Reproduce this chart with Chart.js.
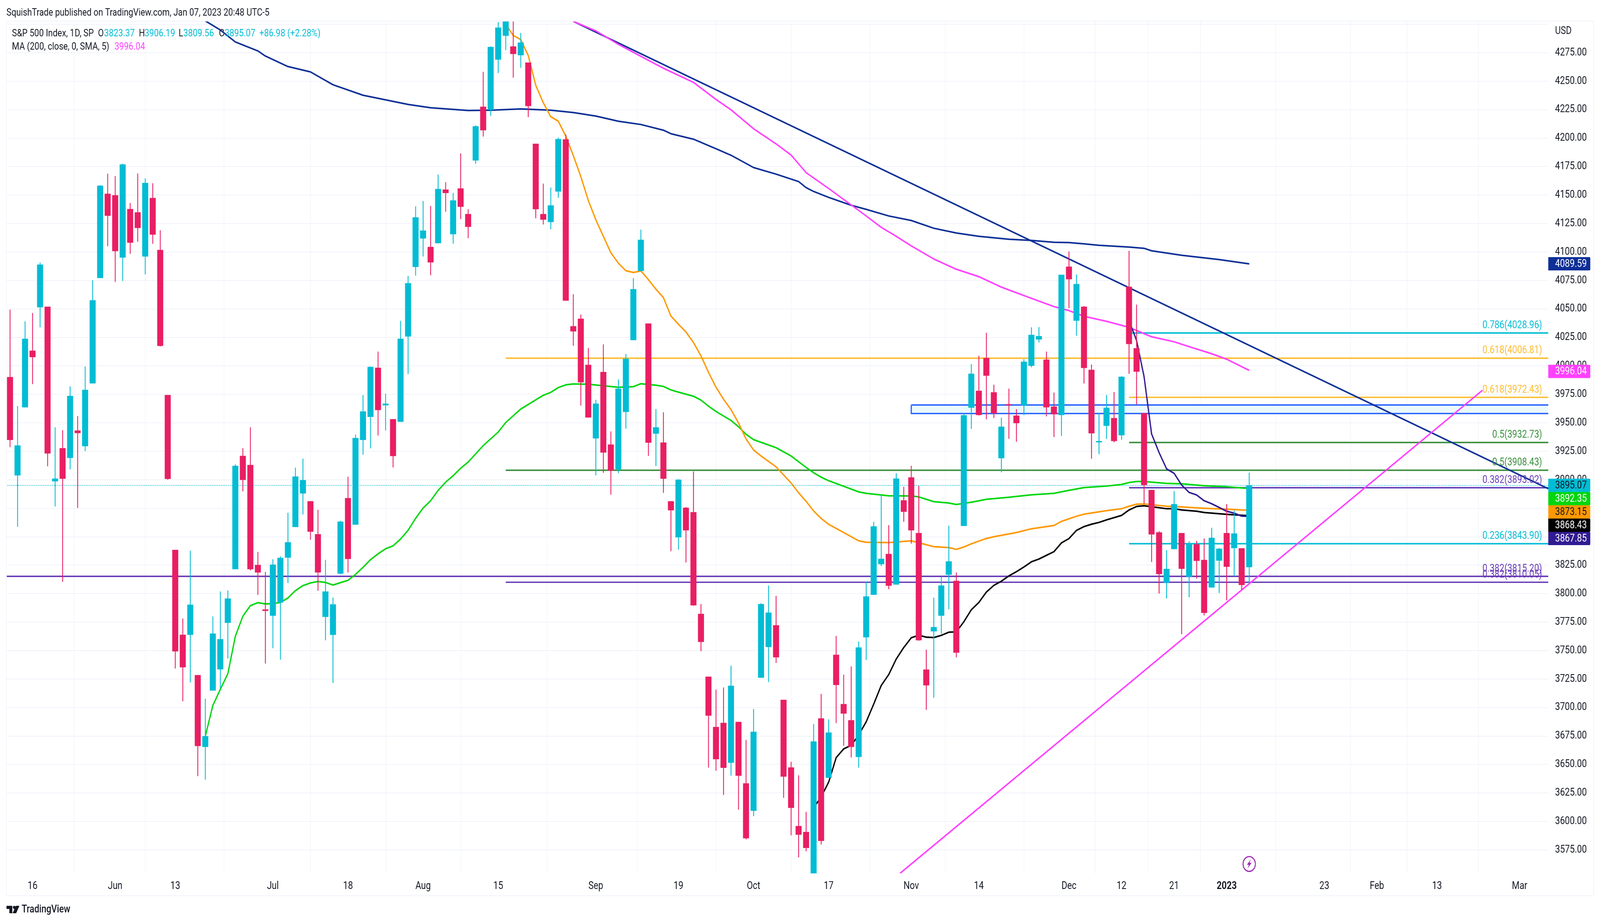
<!DOCTYPE html>
<html><head><meta charset="utf-8">
<style>html,body{margin:0;padding:0;background:#fff;overflow:hidden;width:100%;height:100%}canvas{display:block;width:100vw !important;height:100vh !important}</style>
<script src="https://cdn.jsdelivr.net/npm/chart.js@4"></script>
</head><body><canvas id="c" width="4948" height="2362"></canvas>
<script>
// ---------- DATA ----------
const opens=[3990.2,3903.9,3963.7,4013.3,4051.6,4051.9,3898.7,3927.7,3919.3,3943.2,3929.6,3984.7,4077.3,4151.1,4149.8,4095.2,4137.7,4134.8,4096.2,4147.4,4101.8,3974.4,3838.4,3763.9,3763.9,3728.4,3665.5,3715.0,3733.6,3774.5,3821.6,3920.9,3913.0,3825.2,3786.1,3780.7,3792.3,3831.7,3858.6,3888.1,3881.1,3852.1,3779.7,3763.9,3817.7,3883.9,3860.7,3935.1,3955.3,3998.3,3965.5,3953.2,3951.0,4025.9,4087.0,4112.0,4104.4,4107.8,4154.8,4115.7,4155.8,4133.3,4180.5,4227.5,4224.9,4269.0,4290.0,4280.5,4272.9,4266.3,4195.0,4133.3,4126.4,4153.2,4198.9,4034.8,4041.4,4000.9,3936.4,3994.6,3930.9,3909.3,3959.7,4022.7,4083.4,4037.2,3940.6,3932.7,3881.1,3849.5,3875.4,3871.5,3782.2,3727.1,3682.9,3686.5,3651.6,3687.3,3633.4,3609.4,3726.3,3753.3,3772.2,3706.7,3647.4,3595.9,3590.7,3520.4,3690.4,3638.4,3746.3,3703.0,3688.8,3656.7,3761.8,3799.1,3826.0,3834.8,3808.1,3881.9,3902.1,3853.2,3733.3,3767.0,3780.7,3816.7,3811.2,3859.6,3963.4,3978.1,4006.9,3976.8,3919.0,3966.3,3956.3,3965.5,4000.2,4023.3,4005.4,3964.2,3956.9,4087.1,4039.8,4051.9,3996.5,3933.0,3947.5,3954.1,3939.2,4069.4,4015.5,3958.4,3891.0,3853.8,3809.6,3839.2,3853.2,3814.9,3843.3,3829.6,3805.5,3829.1,3853.2,3840.1,3839.8,3823.4];
const highs=[4049.3,3964.7,4039.0,4046.4,4090.7,4051.9,3946.0,3943.5,3982.0,3955.8,3999.4,4075.2,4158.5,4168.7,4166.6,4177.5,4143.0,4168.9,4164.5,4160.3,4119.0,3974.4,3838.4,3778.1,3837.6,3728.4,3707.7,3779.9,3801.9,3802.7,3913.5,3927.7,3946.0,3836.6,3819.0,3830.1,3832.7,3871.0,3910.6,3918.5,3881.1,3873.6,3829.6,3796.5,3863.8,3902.6,3939.5,3974.2,3999.4,4012.5,3975.5,3953.2,4039.5,4078.9,4140.0,4144.8,4140.3,4167.9,4161.3,4151.9,4186.5,4137.5,4211.2,4258.2,4280.5,4301.8,4325.0,4304.0,4292.3,4266.3,4195.0,4160.0,4156.6,4200.4,4203.3,4062.9,4045.0,4015.7,3970.2,4018.8,3942.4,3988.0,4010.4,4077.0,4119.6,4037.2,3962.0,3959.2,3881.1,3900.5,3876.0,3907.2,3790.8,3727.1,3715.7,3717.5,3736.7,3687.3,3671.5,3698.7,3791.6,3807.1,3798.0,3706.7,3652.3,3640.4,3608.3,3685.5,3711.9,3689.6,3762.8,3728.7,3736.0,3757.9,3810.5,3863.0,3886.8,3860.1,3905.7,3893.8,3912.2,3894.6,3750.7,3796.5,3814.6,3859.6,3818.5,3958.3,4001.5,4008.8,4029.0,3983.4,3954.5,3980.0,3962.0,4005.7,4033.8,4034.0,4012.5,3976.5,4080.0,4100.4,4080.3,4052.5,4001.1,3958.2,3974.4,3977.0,3990.8,4100.9,4053.8,3958.4,3891.0,3854.8,3838.1,3890.0,3853.2,3845.8,3846.2,3848.4,3857.8,3840.0,3878.6,3872.9,3839.8,3906.2];
const lows=[3928.8,3858.9,3963.7,3984.1,4034.0,3912.0,3876.7,3810.5,3909.3,3875.4,3925.4,3984.7,4077.3,4105.2,4073.9,4074.7,4098.6,4109.1,4080.5,4107.3,4017.2,3900.2,3734.4,3705.6,3722.2,3639.9,3636.8,3715.0,3717.3,3743.2,3821.6,3889.9,3820.5,3799.0,3738.8,3752.2,3742.1,3809.4,3858.6,3869.7,3847.5,3802.7,3759.2,3721.7,3817.3,3818.7,3860.7,3922.2,3927.7,3939.0,3943.5,3911.0,3951.0,3993.0,4079.4,4096.2,4079.7,4107.8,4135.6,4107.5,4129.0,4112.3,4177.6,4201.5,4219.6,4257.2,4277.5,4253.2,4261.9,4218.6,4129.8,4124.3,4120.1,4147.7,4057.4,4017.8,3965.3,3954.8,3904.0,3906.2,3887.1,3906.0,3945.0,4022.7,4083.4,3921.1,3912.2,3888.6,3837.4,3838.7,3827.5,3789.6,3749.6,3647.4,3644.6,3623.3,3640.4,3610.4,3584.3,3604.7,3726.3,3722.5,3739.3,3620.8,3587.9,3568.5,3573.9,3491.6,3579.9,3638.4,3686.5,3666.6,3656.2,3647.4,3741.9,3799.1,3824.4,3804.0,3808.1,3863.2,3844.1,3758.8,3698.1,3708.7,3764.9,3786.4,3744.2,3859.6,3944.8,3956.6,3953.2,3954.5,3906.7,3936.1,3933.5,3956.9,3998.9,4020.6,3955.8,3937.7,3938.7,4050.8,4026.7,3984.7,3918.6,3922.6,3935.9,3933.0,3935.2,3993.2,3966.3,3879.3,3827.9,3800.2,3795.9,3839.2,3764.5,3797.0,3813.4,3781.0,3805.5,3800.7,3794.3,3815.6,3803.5,3809.0];
const closes=[3935.1,3930.1,4023.8,4007.8,4088.9,3923.2,3901.0,3901.0,3973.6,3941.1,3978.9,4057.6,4158.2,4131.9,4100.9,4176.8,4108.3,4121.2,4160.6,4115.4,4017.7,3900.8,3749.4,3735.4,3790.3,3666.3,3674.8,3764.9,3760.0,3795.7,3912.2,3900.0,3821.6,3818.7,3785.0,3825.5,3831.4,3845.1,3902.8,3899.7,3854.5,3818.7,3801.9,3790.5,3863.2,3830.6,3936.6,3960.0,3999.1,3961.3,3966.8,3920.9,4023.8,4072.6,4130.4,4118.8,4091.0,4155.3,4151.9,4145.3,4139.8,4122.2,4210.4,4207.0,4280.0,4297.0,4305.0,4274.0,4283.9,4228.3,4137.7,4128.5,4140.9,4199.1,4057.4,4030.4,3985.7,3954.8,3966.8,3924.0,3908.0,3980.0,4006.2,4067.4,4110.7,3932.7,3946.0,3901.0,3873.3,3900.0,3855.7,3789.8,3757.7,3693.0,3654.7,3647.2,3719.1,3640.2,3585.3,3678.7,3790.8,3783.3,3744.2,3639.4,3612.0,3588.4,3576.8,3670.2,3583.0,3678.0,3719.9,3694.8,3665.5,3752.7,3797.5,3859.1,3830.6,3807.1,3901.0,3872.0,3855.7,3759.2,3719.6,3770.6,3807.1,3828.3,3748.3,3956.6,3993.1,3956.9,3991.5,3958.4,3946.6,3965.5,3949.8,4003.6,4027.2,4026.1,3963.7,3957.6,4080.0,4076.2,4071.8,3998.3,3940.9,3933.9,3963.2,3934.1,3990.4,4019.3,3995.0,3895.4,3852.1,3817.3,3821.7,3878.6,3821.9,3844.0,3828.9,3783.2,3849.0,3839.4,3823.7,3852.8,3807.7,3895.07];

const maNavyX=[26,28,30,33,34,37,40,43,47,53,56,61,64,68,72,75,78,81,84,87,88,91,94,96,99,102,105,106,107,109,112,114,117,120,123,126,129,133,136,139,141,143,145,149,151,152,156,161,165];
const maNavyY=[4303,4295,4284.5,4276.6,4272.1,4262.9,4258.2,4246.9,4237.7,4229.6,4226.7,4224.3,4224.6,4225.7,4224.6,4222.5,4219.4,4214.9,4212,4207,4203.9,4199.1,4190.7,4185,4174.2,4168.4,4161.9,4156.6,4153.2,4148,4141.1,4137.5,4131.7,4127.7,4120.9,4116.7,4113.8,4111.2,4110.2,4108.6,4108.3,4107.2,4105.9,4104.4,4103.3,4101.1,4097.2,4093.4,4089.59];
const maMagentaX=[75,78,81,84,87,91,94,96,99,102,104,106,109,112,114,116,118,120,123,126,129,132,135,139,141,143,146,149,152,155,157,160,162,165];
const maMagentaY=[4302.6,4294.2,4282.4,4271.9,4261.4,4249,4234,4224.9,4208.3,4195,4185.2,4169.7,4155.8,4141.4,4131.7,4121.7,4113.8,4105.4,4093.9,4084.9,4078.4,4069.2,4061.8,4052.1,4048.6,4043.6,4039.2,4033.9,4025.6,4021.2,4016.9,4010.7,4005.9,3996.04];
const maOrangeX=[66,67,68,69,70,71,72,73,74,75,76,77,78,79,80,81,82,83,84,85,86,87,88,89,90,91,92,93,94,95,96,97,98,99,100,102,104,105,106,107,108,109,111,113,114,117,120,123,125,126,127,128,130,131,134,136,139,140,142,143,146,148,149,150,151,154,156,159,162,165];
const maOrangeY=[4300,4290.2,4286.6,4272.6,4246.4,4231.2,4218.8,4214.9,4201.8,4184.7,4166.3,4145.3,4128.3,4113.8,4099.4,4090.2,4083.6,4082.1,4083.4,4075.8,4067.4,4060,4043.8,4036.6,4029.8,4020.6,4008.8,3994.4,3981.3,3970.8,3961.6,3949.9,3935.9,3926.2,3920.9,3911.4,3897.2,3888.6,3881.1,3872.6,3866.1,3860.9,3853.7,3846.4,3845.1,3844.9,3846.4,3841.3,3840.5,3838.9,3841,3843.8,3848.5,3850,3853.7,3857,3859.9,3863.5,3868,3869.8,3872.9,3874.6,3876.8,3878.6,3878.8,3876.8,3876.2,3875,3874.2,3873.15];
const maGreenX=[26,27,28,29,30,31,32,33,34,35,36,37,38,39,40,41,42,43,44,45,46,47,48,49,50,51,52,53,54,55,56,57,58,59,60,61,63,65,66,68,70,71,72,73,74,75,77,79,81,83,84,86,87,88,89,91,92,93,94,96,97,98,99,102,104,106,107,108,109,111,113,114,117,120,121,123,125,126,128,130,133,136,139,141,143,146,148,149,150,151,154,156,159,162,165];
const maGreenY=[3674.8,3701.8,3716,3729.7,3762.6,3780.2,3789.5,3792.1,3791,3791.3,3792.3,3796.2,3802.7,3807.1,3809.4,3810.7,3809.9,3807.6,3809.7,3811.7,3816.9,3823.1,3829.9,3835,3839.4,3842,3848,3855.7,3866.1,3875.2,3881.6,3890.7,3897.9,3903.6,3910.1,3915.6,3930,3941.9,3950.3,3962.1,3970.2,3974.2,3976.8,3981,3983.4,3984.2,3983.9,3982.6,3981.3,3981.8,3984.4,3983.1,3982,3978.9,3977,3973.4,3970,3964.7,3960,3952.1,3946.6,3940,3935.3,3928.2,3920.9,3910.9,3906.2,3902.3,3899.2,3894.3,3889.4,3888.1,3886,3885.8,3885,3880.8,3879.6,3878.3,3880.3,3882.9,3884.7,3886.8,3888.1,3890.8,3893.2,3894.5,3895.9,3897.6,3898.5,3898.5,3896.9,3896.5,3894.8,3893.9,3892.35];
const maBlackX=[107,108,109,110,111,112,113,114,115,116,117,118,119,120,121,122,123,124,125,126,127,128,129,130,131,132,133,134,135,136,137,138,139,140,141,142,143,144,145,146,148,149,150,151,154,155,156,158,159,162,165];
const maBlackY=[3612,3621.5,3634.5,3656,3663.7,3666.8,3675.9,3687.5,3703,3719.4,3729,3742.6,3752.7,3761.3,3763.6,3761.8,3761.5,3763.4,3766.2,3766.5,3775.3,3785.9,3792.3,3801.4,3807.3,3811,3815.6,3819.3,3823.4,3828,3830.4,3833.7,3836.9,3844.6,3848.4,3855.6,3858.9,3861,3862.6,3864.8,3868.7,3873.5,3876.6,3877.2,3874.6,3874.6,3873.5,3872.4,3871.3,3869.7,3868.43];
const maIndigoX=[149,150,151,152,153,154,155,156,157,158,159,160,161,162,163,164,165];
const maIndigoY=[4040,4022.3,3990.6,3940.3,3923.9,3909.6,3905.7,3895.4,3888.9,3886.7,3881.6,3879,3875.7,3872.4,3870.7,3868.1,3867.85];

const trendDownX=[75,204.82], trendDownY=[4302.6,3892.2];
const trendUpX=[118.5,196.05], trendUpY=[3554.4,3978.6];

const fibValues=[4028.96,4006.81,3972.43,3932.73,3908.43,3893.02,3843.90,3815.20,3810.05];
const fibNames=['0.786','0.618','0.618','0.5','0.5','0.382','0.236','0.382','0.382'];
const fibStart=[149,66,149,149,66,149,149,-2,66];
const fibEnd=210;
const fibColors=['#00bcd4','#fbbc2d','#fbbc2d','#388e3c','#388e3c','#673ab7','#00bcd4','#673ab7','#673ab7'];

const zoneX=[120,210,210,120,120], zoneY=[3965.7,3965.7,3958.2,3958.2,3965.7];
const lastClose=3895.07;

const yTicks=[];
for(let v=3575;v<=4300;v+=25) yTicks.push(v);
const xTickIdx=[3,14,22,35,45,55,65,78,89,99,109,120,129,141,148,155,162,175,182,190,201];
const xTickLabels=['16','Jun','13','Jul','18','Aug','15','Sep','19','Oct','17','Nov','14','Dec','12','21','2023','23','Feb','13','Mar'];

const badgeValues=[4089.59,3996.04,3895.07,3892.35,3873.15,3868.43,3867.85];
const badgeTextY=[675,950.5,1242,1276,1310,1344,1378];
const badgeBg=['#0d2f96','#ff40ff','#00bcd4','#00d60e','#ff9800','#000000','#311b92'];
const badgeFg=['#ffffff','#ffffff','#131722','#ffffff','#131722','#ffffff','#ffffff'];

// ---------- COLOURS / HELPERS ----------
const UP='#00bcd4', DOWN='#e91e63', GRID='#f0f3fa', INK='#131722';
const FONT='Roboto, sans-serif';
const pts=(xs,ys)=>xs.map((x,i)=>({x,y:ys[i]}));
const colors=opens.map((o,i)=>closes[i]>=o?UP:DOWN);
const lineDs=(data,color,width,order,extra)=>Object.assign({type:'line',data,borderColor:color,borderWidth:width,pointRadius:0,tension:0,fill:false,order,borderCapStyle:'butt',borderJoinStyle:'round'},extra||{});

const datasets=[
  {type:'bar',data:opens.map((o,i)=>({x:i,y:[o,closes[i]]})),backgroundColor:colors,barThickness:18,grouped:false,order:0},
  {type:'bar',data:lows.map((l,i)=>({x:i,y:[l,highs[i]]})),backgroundColor:colors,barThickness:2,grouped:false,order:1},
  lineDs(pts(trendUpX,trendUpY),'#ff40ff',4,2),
  lineDs(pts(maIndigoX,maIndigoY),'#311b92',4,3),
  lineDs(pts(maBlackX,maBlackY),'#000000',4,4),
  lineDs(pts(maOrangeX,maOrangeY),'#ff9800',4,5),
  lineDs(pts(maGreenX,maGreenY),'#00d60e',4,6),
  lineDs(pts(maMagentaX,maMagentaY),'#ff40ff',4,7),
  lineDs(pts(trendDownX,trendDownY),'#0d2f96',4,8),
  lineDs(pts(maNavyX,maNavyY),'#0d2f96',4,9),
  lineDs([{x:-2,y:lastClose},{x:210,y:lastClose}],'#00bcd4',2,10,{borderDash:[2.5,3]}),
];
fibValues.forEach((v,i)=>datasets.push(lineDs([{x:fibStart[i],y:v},{x:fibEnd,y:v}],fibColors[i],3.7,11+i)));
datasets.push(lineDs(pts(zoneX,zoneY),'#2962ff',3.7,30));
datasets.push(lineDs(pts(zoneX.slice(0,2),zoneY.slice(0,2)),'rgba(0,0,0,0)',0,31,{fill:{value:zoneY[2]},backgroundColor:'#ebf9fc'}));

// ---------- DECORATION PLUGIN ----------
function legendText(ctx){
  ctx.textAlign='left'; ctx.textBaseline='middle';
  ctx.font='26px '+FONT; ctx.fillStyle=INK;
  ctx.fillText('SquishTrade published on TradingView.com, Jan 07, 2023 20:48 UTC-5',20,33);
  const row=[['S&P 500 Index, 1D, SP',37,INK],['O',303,INK],['3823.37',322,UP],['H',429.5,INK],['3906.19',447,UP],['L',552.6,INK],['3809.56',567,UP],['C',677,INK],['3895.07',695,UP],['+86.98 (+2.28%)',802,UP]];
  ctx.font='26px '+FONT;
  row.forEach(r=>{ctx.fillStyle=r[2];ctx.fillText(r[0],r[1],86);});
  ctx.fillStyle=INK; ctx.fillText('MA (200, close, 0, SMA, 5)',37,120);
  ctx.fillStyle='#ff40ff'; ctx.fillText('3996.04',354,120);
}
const deco={
  id:'deco',
  afterDatasetsDraw(chart){
    const c=chart.ctx,y=chart.scales.y,a=chart.chartArea;
    c.save();
    c.beginPath();c.rect(a.left,a.top,a.right-a.left,a.bottom-a.top);c.clip();
    c.font='27px '+FONT;c.textAlign='right';c.textBaseline='middle';
    fibValues.forEach((v,i)=>{
      c.fillStyle=fibColors[i];
      c.fillText(fibNames[i]+'('+v.toFixed(2)+')',4769,y.getPixelForValue(v)-19);
    });
    c.restore();
    legendText(c);
  },
  afterDraw(chart){
    const c=chart.ctx,x=chart.scales.x,a=chart.chartArea;
    c.save();
    c.strokeStyle=GRID;c.lineWidth=2;c.strokeRect(20,54,4908,2238);
    c.font='27px '+FONT;c.fillStyle=INK;c.textAlign='left';c.textBaseline='middle';
    c.fillText('USD',4809,80);
    badgeValues.forEach((v,i)=>{
      const cy=badgeTextY[i];
      c.fillStyle=badgeBg[i];
      c.beginPath();c.roundRect(a.right,cy-17,130,34,[0,3,3,0]);c.fill();
      c.fillStyle=badgeFg[i];c.fillText(v.toFixed(2),4809,cy+1);
    });
    const ex=x.getPixelForValue(165),ey=2211;
    c.strokeStyle='#9c27b0';c.lineWidth=3;
    c.beginPath();c.arc(ex,ey,19,0,Math.PI*2);c.stroke();
    c.fillStyle='#9c27b0';c.beginPath();
    c.moveTo(ex+5,ey-12);c.lineTo(ex-7,ey+2);c.lineTo(ex-1,ey+2);c.lineTo(ex-5,ey+12);c.lineTo(ex+7,ey-3);c.lineTo(ex+1,ey-3);c.closePath();c.fill();
    c.fillStyle=INK;c.beginPath();
    c.moveTo(20,2318);c.lineTo(38,2318);c.lineTo(38,2337);c.lineTo(29,2337);c.lineTo(29,2326);c.lineTo(20,2326);c.closePath();c.fill();
    c.beginPath();c.arc(44,2322,4,0,Math.PI*2);c.fill();
    c.beginPath();c.moveTo(49,2318);c.lineTo(60,2318);c.lineTo(50,2337);c.lineTo(39,2337);c.closePath();c.fill();
    c.font='500 27px '+FONT;c.fillStyle=INK;c.textAlign='left';c.textBaseline='middle';
    c.fillText('TradingView',67,2328);
    c.restore();
  }
};

// ---------- CHART ----------
Chart.defaults.font.family=FONT;
new Chart(document.getElementById('c'),{
  data:{datasets},
  plugins:[deco],
  options:{
    responsive:false,devicePixelRatio:1,animation:false,
    layout:{padding:{left:20,top:54,right:0,bottom:0}},
    plugins:{legend:{display:false},tooltip:{enabled:false}},
    scales:{
      x:{type:'linear',min:-0.474,max:204.82,offset:false,
        grid:{color:GRID,lineWidth:1.5,drawTicks:false},border:{display:false},
        afterBuildTicks(s){s.ticks=xTickIdx.map(v=>({value:v}));},
        afterFit(s){s.height=127;},
        ticks:{autoSkip:false,maxRotation:0,padding:17,color:INK,
          font(ctx){return {size:27,family:FONT,weight:ctx.tick&&ctx.tick.value===162?'700':'400'};},
          callback(v){const i=xTickIdx.indexOf(v);return i<0?'':xTickLabels[i];}}},
      y:{type:'linear',position:'right',min:3554.4,max:4302.8,
        grid:{color:GRID,lineWidth:2,drawTicks:false},border:{display:false},
        afterBuildTicks(s){s.ticks=yTicks.map(v=>({value:v}));},
        afterFit(s){s.width=160;},
        ticks:{autoSkip:false,padding:21,color:INK,align:'center',crossAlign:'near',
          font:{size:27,family:FONT},
          callback(v){return v===4300?'':v.toFixed(2);}}}
    }
  }
});
</script></body></html>
